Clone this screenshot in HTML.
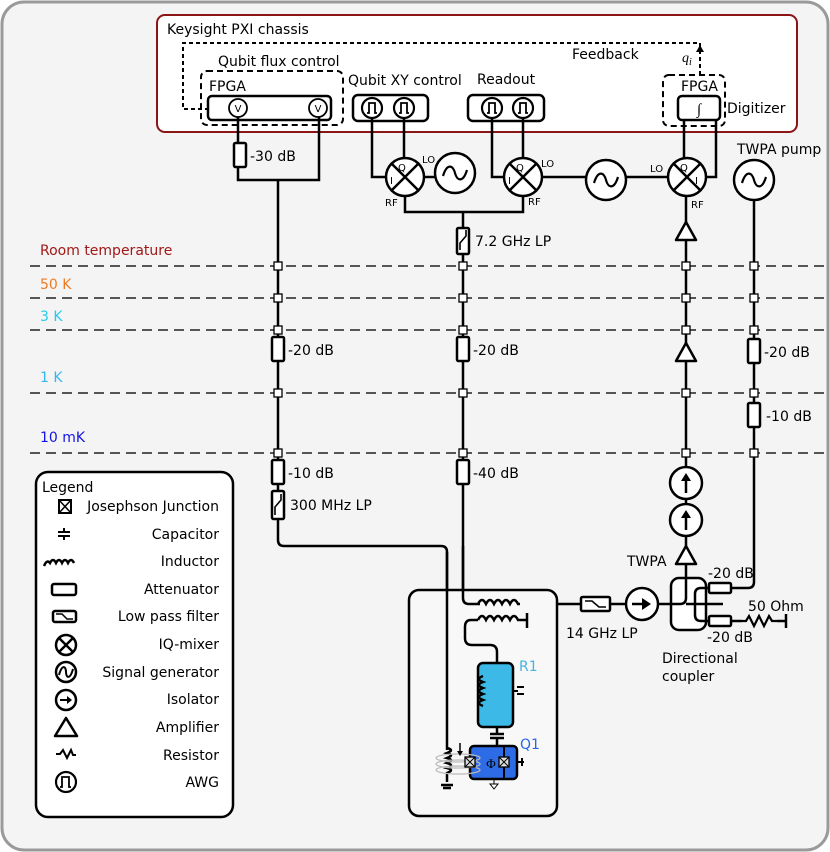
<!DOCTYPE html>
<html><head><meta charset="utf-8"><style>
html,body{margin:0;padding:0;background:#fff;}
svg{display:block;font-family:"DejaVu Sans","Liberation Sans",sans-serif;}
</style></head><body>
<svg width="830" height="852" viewBox="0 0 830 852" xmlns="http://www.w3.org/2000/svg">
<defs>
<g id="att"><rect x="-6" y="-12" width="12" height="24" rx="1.5" fill="#fff" stroke="#000" stroke-width="2.5"/></g>
<g id="sq"><rect x="-4" y="-4" width="8" height="8" fill="#fff" stroke="#000" stroke-width="1.3"/></g>
<g id="mix"><circle r="19" fill="#fff" stroke="#000" stroke-width="2.5"/><path d="M-13.4,-13.4L13.4,13.4M13.4,-13.4L-13.4,13.4" stroke="#000" stroke-width="2.5"/></g>
<g id="gen"><circle r="20" fill="#fff" stroke="#000" stroke-width="2.5"/><path d="M-12,3 C-8,-10 -2,-8 0,0 C2,8 8,10 12,-3" fill="none" stroke="#000" stroke-width="2.2"/></g>
<g id="awg"><circle r="10" fill="#fff" stroke="#000" stroke-width="2.2"/><path d="M-5,5 L-3,5 L-3,-5 L3,-5 L3,5 L5,5" fill="none" stroke="#000" stroke-width="1.8"/></g>
<g id="amp"><path d="M0,-10 L10,8 L-10,8 Z" fill="#fff" stroke="#000" stroke-width="2.5" stroke-linejoin="round"/></g>
<g id="iso"><circle r="16" fill="#fff" stroke="#000" stroke-width="2.5"/><path d="M0,10 L0,-4" stroke="#000" stroke-width="2.5"/><path d="M-5,-2 L0,-10 L5,-2 Z" fill="#000"/></g>
</defs>
<rect x="2" y="2" width="826" height="848" rx="22" fill="#f4f4f4" stroke="#9a9a9a" stroke-width="3"/>

<!-- PXI chassis -->
<rect x="157" y="15" width="640" height="117" rx="8" fill="#fff" stroke="#8b1414" stroke-width="2"/>
<text x="167" y="34" font-size="14">Keysight PXI chassis</text>
<path d="M700,75 L700,43 L183,43 L183,109 L226,109" fill="none" stroke="#000" stroke-width="2" stroke-dasharray="4,3"/>
<path d="M224,105 L230,109 L224,113 Z" fill="#000"/>
<path d="M696,52 L700,45 L704,52 Z" fill="#000"/>
<text x="572" y="59" font-size="14">Feedback</text>
<text x="682" y="62" font-size="14" font-style="italic" font-family="Liberation Serif,serif">q<tspan font-size="10" dy="3">i</tspan></text>
<text x="218" y="66" font-size="14">Qubit flux control</text>
<rect x="201" y="71" width="142" height="54" rx="6" fill="none" stroke="#000" stroke-width="2" stroke-dasharray="6,4"/>
<text x="209" y="91" font-size="14">FPGA</text>
<rect x="208" y="96" width="123" height="24" rx="4" fill="#fff" stroke="#000" stroke-width="2.5"/>
<circle cx="238" cy="108" r="9" fill="#fff" stroke="#000" stroke-width="1.8"/><text x="238" y="112" font-size="10" text-anchor="middle">V</text>
<circle cx="318" cy="108" r="9" fill="#fff" stroke="#000" stroke-width="1.8"/><text x="318" y="112" font-size="10" text-anchor="middle">V</text>
<text x="348" y="85" font-size="14">Qubit XY control</text>
<rect x="353" y="95" width="75" height="26" rx="5" fill="#fff" stroke="#000" stroke-width="2.5"/>
<use href="#awg" x="372" y="108"/><use href="#awg" x="404" y="108"/>
<text x="477" y="84" font-size="14">Readout</text>
<rect x="468" y="95" width="76" height="26" rx="5" fill="#fff" stroke="#000" stroke-width="2.5"/>
<use href="#awg" x="492" y="108"/><use href="#awg" x="523" y="108"/>
<rect x="663" y="75" width="62" height="51" rx="6" fill="none" stroke="#000" stroke-width="2" stroke-dasharray="6,4"/>
<text x="681" y="91" font-size="14">FPGA</text>
<rect x="678" y="96" width="42" height="24" rx="4" fill="#fff" stroke="#000" stroke-width="2.5"/>
<text x="699" y="114" font-size="15" text-anchor="middle" font-style="italic" font-family="Liberation Serif,serif">∫</text>
<text x="727" y="113" font-size="14">Digitizer</text>

<!-- wiring -->
<g fill="none" stroke="#000" stroke-width="2.5">
<path d="M238,117 L238,180 L319,180 L319,117"/>
<path d="M278,180 L278,540 Q278,546 284,546 L441,546 Q447,546 447,552 L447,750"/>
<path d="M372,118 L372,177 L386,177"/>
<path d="M404,118 L404,158"/>
<path d="M424,177 L435,177"/>
<path d="M405,196 L405,212 L523,212 L523,196"/>
<path d="M463,212 L463,598 Q463,604 469,604 L480,604"/>
<path d="M492,118 L492,177 L504,177"/>
<path d="M523,118 L523,158"/>
<path d="M542,177 L668,177"/>
<path d="M684,120 L684,158"/>
<path d="M716,120 L716,177 L705,177"/>
<path d="M686,196 L686,580"/>
<path d="M754,200 L754,582 Q754,588 748,588 L731,588"/>
<path d="M514,604 L581,604 M610,604 L626,604 M658,604 L671,604"/>
<path d="M731,621 L742,621 M777,621 L785,621"/>
</g>
<!-- temperature lines -->
<g stroke="#555" stroke-width="2" stroke-dasharray="10,6">
<line x1="30" y1="266" x2="828" y2="266"/><line x1="30" y1="298" x2="828" y2="298"/>
<line x1="30" y1="330" x2="828" y2="330"/><line x1="30" y1="393" x2="828" y2="393"/>
<line x1="30" y1="453" x2="828" y2="453"/>
</g>
<text x="40" y="255" font-size="14" fill="#a01818">Room temperature</text>
<text x="40" y="289" font-size="14" fill="#ee7a22">50 K</text>
<text x="40" y="321" font-size="14" fill="#22ccee">3 K</text>
<text x="40" y="382" font-size="14" fill="#33b8ea">1 K</text>
<text x="40" y="442" font-size="14" fill="#1414e6">10 mK</text>
<g>
<use href="#sq" x="278" y="266"/><use href="#sq" x="278" y="298"/><use href="#sq" x="278" y="330"/><use href="#sq" x="278" y="393"/><use href="#sq" x="278" y="453"/>
<use href="#sq" x="463" y="266"/><use href="#sq" x="463" y="298"/><use href="#sq" x="463" y="330"/><use href="#sq" x="463" y="393"/><use href="#sq" x="463" y="453"/>
<use href="#sq" x="686" y="266"/><use href="#sq" x="686" y="298"/><use href="#sq" x="686" y="330"/><use href="#sq" x="686" y="393"/><use href="#sq" x="686" y="453"/>
<use href="#sq" x="754" y="266"/><use href="#sq" x="754" y="298"/><use href="#sq" x="754" y="330"/><use href="#sq" x="754" y="393"/><use href="#sq" x="754" y="453"/>
</g>

<!-- components -->
<use href="#att" x="240" y="155"/><text x="250" y="161" font-size="14">-30 dB</text>
<use href="#mix" x="405" y="177"/><text x="398" y="171" font-size="10">Q</text><text x="390" y="184" font-size="10">I</text><text x="422" y="163" font-size="10">LO</text><text x="385" y="206" font-size="10">RF</text>
<use href="#gen" x="455" y="173"/>
<use href="#mix" x="523" y="177"/><text x="516" y="171" font-size="10">Q</text><text x="508" y="184" font-size="10">I</text><text x="541" y="167" font-size="10">LO</text><text x="528" y="205" font-size="10">RF</text>
<use href="#gen" x="606" y="180"/>
<use href="#mix" x="687" y="177"/><text x="680" y="171" font-size="10">Q</text><text x="695" y="184" font-size="10">I</text><text x="650" y="172" font-size="10">LO</text><text x="691" y="208" font-size="10">RF</text>
<use href="#gen" x="754" y="180"/><text x="737" y="154" font-size="14">TWPA pump</text>
<rect x="457" y="228" width="12" height="26" rx="1.5" fill="#fff" stroke="#000" stroke-width="2.5"/>
<path d="M460,250 L460,243 L466,236 L466,230" fill="none" stroke="#000" stroke-width="1.6"/>
<text x="475" y="246" font-size="14">7.2 GHz LP</text>
<use href="#amp" x="686" y="232"/>

<use href="#att" x="278" y="349"/><text x="288" y="355" font-size="14">-20 dB</text>
<use href="#att" x="278" y="472"/><text x="288" y="478" font-size="14">-10 dB</text>
<rect x="272" y="491" width="12" height="28" rx="1.5" fill="#fff" stroke="#000" stroke-width="2.5"/>
<path d="M275,515 L275,507 L281,500 L281,494" fill="none" stroke="#000" stroke-width="1.6"/>
<text x="290" y="510" font-size="14">300 MHz LP</text>
<use href="#att" x="463" y="349"/><text x="473" y="355" font-size="14">-20 dB</text>
<use href="#att" x="463" y="472"/><text x="473" y="478" font-size="14">-40 dB</text>
<use href="#amp" x="686" y="353"/>
<use href="#iso" x="686" y="483"/><use href="#iso" x="686" y="520"/>
<use href="#amp" x="686" y="556"/><text x="627" y="566" font-size="14">TWPA</text>
<use href="#att" x="754" y="351"/><text x="764" y="357" font-size="14">-20 dB</text>
<use href="#att" x="754" y="415"/><text x="766" y="421" font-size="14">-10 dB</text>

<!-- directional coupler -->
<rect x="671" y="578" width="35" height="52" rx="8" fill="#fff" stroke="#000" stroke-width="2.5"/>
<path d="M671,604 L680,604 Q686,604 686,598 L686,578" fill="none" stroke="#000" stroke-width="2.5"/>
<path d="M686,604 L723,604" stroke="#000" stroke-width="2.5"/>
<path d="M710,588 L701,588 Q695,588 695,594 L695,615 Q695,621 701,621 L710,621" fill="none" stroke="#000" stroke-width="2.5"/>
<rect x="709" y="583" width="22" height="10" rx="1.5" fill="#fff" stroke="#000" stroke-width="2.5"/>
<rect x="709" y="616" width="22" height="10" rx="1.5" fill="#fff" stroke="#000" stroke-width="2.5"/>
<text x="708" y="578" font-size="14">-20 dB</text>
<text x="707" y="642" font-size="14">-20 dB</text>
<path d="M742,621 L746,621 L749,616 L754,626 L759,616 L764,626 L769,616 L772,621 L777,621" fill="none" stroke="#000" stroke-width="2.2"/>
<path d="M786,614 L786,628" stroke="#000" stroke-width="2.5"/>
<text x="748" y="611" font-size="14">50 Ohm</text>
<text x="662" y="663" font-size="14">Directional</text>
<text x="662" y="681" font-size="14">coupler</text>
<circle cx="642" cy="604" r="16" fill="#fff" stroke="#000" stroke-width="2.5"/>
<path d="M632,604 L644,604" stroke="#000" stroke-width="2.5"/><path d="M642,598 L651,604 L642,610 Z" fill="#000"/>
<rect x="581" y="597" width="29" height="14" rx="1.5" fill="#fff" stroke="#000" stroke-width="2.5"/>
<path d="M585,601 L592,601 L599,607 L606,607" fill="none" stroke="#000" stroke-width="1.6"/>
<text x="566" y="638" font-size="14">14 GHz LP</text>

<!-- chip -->
<rect x="409" y="590" width="148" height="226" rx="10" fill="#f8f8f8" stroke="#000" stroke-width="2.5"/>
<path d="M447,552 L447,750" stroke="#000" stroke-width="2.5"/>
<path d="M463,546 L463,598 Q463,604 469,604 L480,604" fill="none" stroke="#000" stroke-width="2.5"/>
<g fill="none" stroke="#000" stroke-width="2.5">
<path d="M478,604 q4,-8 8,0 q4,-8 8,0 q4,-8 8,0 q4,-8 8,0 q4,-8 8,0 L520,604"/>
<path d="M478,620 q4,-8 8,0 q4,-8 8,0 q4,-8 8,0 q4,-8 8,0 q4,-8 8,0 L527,620"/>
<path d="M527,613 L527,628"/>
<path d="M478,620 L471,620 Q465,620 465,627 L465,638 Q465,645 472,645 L490,645 Q497,645 497,652 L497,663"/>
<path d="M497,727 L497,734 M490,734 L504,734 M490,738 L504,738 M497,738 L497,747"/>
<path d="M447,748 q8,2 0,5 q8,2 0,5 q8,2 0,5 q8,2 0,5 q8,2 0,5 L447,782 M441,785 L453,785 M443,788 L451,788"/>
</g>
<rect x="478" y="663" width="35" height="64" rx="5" fill="#3cb9e6" stroke="#000" stroke-width="2.5"/>
<path d="M483,676 q-8,3 0,6 q-8,3 0,6 q-8,3 0,6 q-8,3 0,6 q-8,3 0,6" fill="none" stroke="#000" stroke-width="2.5"/>
<path d="M513,691 L518,691 M517,687 L524,687 M517,694 L524,694" stroke="#000" stroke-width="2"/>
<text x="519" y="671" font-size="14" fill="#44b4e4">R1</text>
<rect x="470" y="746" width="47" height="33" rx="4" fill="#2e6be6" stroke="#000" stroke-width="2.5"/>
<path d="M504,746 L504,779" stroke="#000" stroke-width="2"/>
<path d="M517,762 L524,762 M522,758 L522,766" stroke="#000" stroke-width="2"/>
<g fill="none" stroke="#bbb" stroke-width="1.3">
<ellipse cx="458" cy="758" rx="22" ry="4"/><ellipse cx="458" cy="764" rx="22" ry="4"/><ellipse cx="458" cy="770" rx="22" ry="4"/>
</g>
<rect x="465" y="757" width="10" height="10" fill="#ddd" stroke="#000" stroke-width="1.3"/><path d="M465,757 L475,767 M475,757 L465,767" stroke="#000" stroke-width="1"/>
<rect x="499" y="757" width="10" height="10" fill="#ddd" stroke="#000" stroke-width="1.3"/><path d="M499,757 L509,767 M509,757 L499,767" stroke="#000" stroke-width="1"/>
<text x="491" y="768" font-size="13" text-anchor="middle" font-family="Liberation Serif,serif">Φ</text>
<path d="M460,743 L460,753" stroke="#000" stroke-width="1.5"/><path d="M457,751 L460,756 L463,751 Z" fill="#000"/>
<path d="M494,779 L494,784 M490,784 L498,784 L494,789 Z" fill="#fff" stroke="#000" stroke-width="1"/>
<text x="520" y="749" font-size="14" fill="#2a66e6">Q1</text>

<!-- legend -->
<rect x="36" y="472" width="197" height="345" rx="12" fill="#fff" stroke="#000" stroke-width="2.5"/>
<text x="42" y="492" font-size="14">Legend</text>
<g font-size="14" text-anchor="end">
<text x="219" y="511">Josephson Junction</text>
<text x="219" y="539">Capacitor</text>
<text x="219" y="566">Inductor</text>
<text x="219" y="594">Attenuator</text>
<text x="219" y="621">Low pass filter</text>
<text x="219" y="649">IQ-mixer</text>
<text x="219" y="677">Signal generator</text>
<text x="219" y="704">Isolator</text>
<text x="219" y="732">Amplifier</text>
<text x="219" y="760">Resistor</text>
<text x="219" y="787">AWG</text>
</g>
<rect x="59" y="500" width="12" height="13" fill="#fff" stroke="#000" stroke-width="2"/><path d="M59,500 L71,513 M71,500 L59,513" stroke="#000" stroke-width="1.5"/>
<path d="M58,532 L70,532 M58,536 L70,536 M64,528 L64,532 M64,536 L64,540" stroke="#000" stroke-width="2"/>
<path d="M44,566 q3,-7 6,-3 q3,-6 6,0 q3,-6 6,0 q3,-6 6,0 q3,-6 6,0" fill="none" stroke="#000" stroke-width="2.5"/>
<rect x="52" y="584" width="24" height="11" rx="2" fill="#fff" stroke="#000" stroke-width="2.5"/>
<rect x="53" y="611" width="23" height="11" rx="2" fill="#fff" stroke="#000" stroke-width="2.5"/><path d="M56,614 L62,614 L67,619 L73,619" fill="none" stroke="#000" stroke-width="1.5"/>
<circle cx="66" cy="645" r="10" fill="#fff" stroke="#000" stroke-width="2.5"/><path d="M59,638 L73,652 M73,638 L59,652" stroke="#000" stroke-width="2.5"/>
<circle cx="66" cy="672" r="10" fill="#fff" stroke="#000" stroke-width="2.5"/><path d="M59,675 C62,664 66,666 66,672 C66,678 70,680 73,669" fill="none" stroke="#000" stroke-width="2"/>
<circle cx="66" cy="700" r="10" fill="#fff" stroke="#000" stroke-width="2.5"/><path d="M60,700 L68,700" stroke="#000" stroke-width="2"/><path d="M67,696 L72,700 L67,704 Z" fill="#000"/>
<path d="M66,718 L77,736 L55,736 Z" fill="#fff" stroke="#000" stroke-width="2.5" stroke-linejoin="round"/>
<path d="M56,754 L60,754 L63,750 L67,758 L71,750 L73,755 L76,755" fill="none" stroke="#000" stroke-width="2"/>
<circle cx="66" cy="782" r="10" fill="#fff" stroke="#000" stroke-width="2.2"/><path d="M60,787 L62,787 L62,777 L69,777 L69,787 L71,787" fill="none" stroke="#000" stroke-width="1.8"/>
</svg>
</body></html>
